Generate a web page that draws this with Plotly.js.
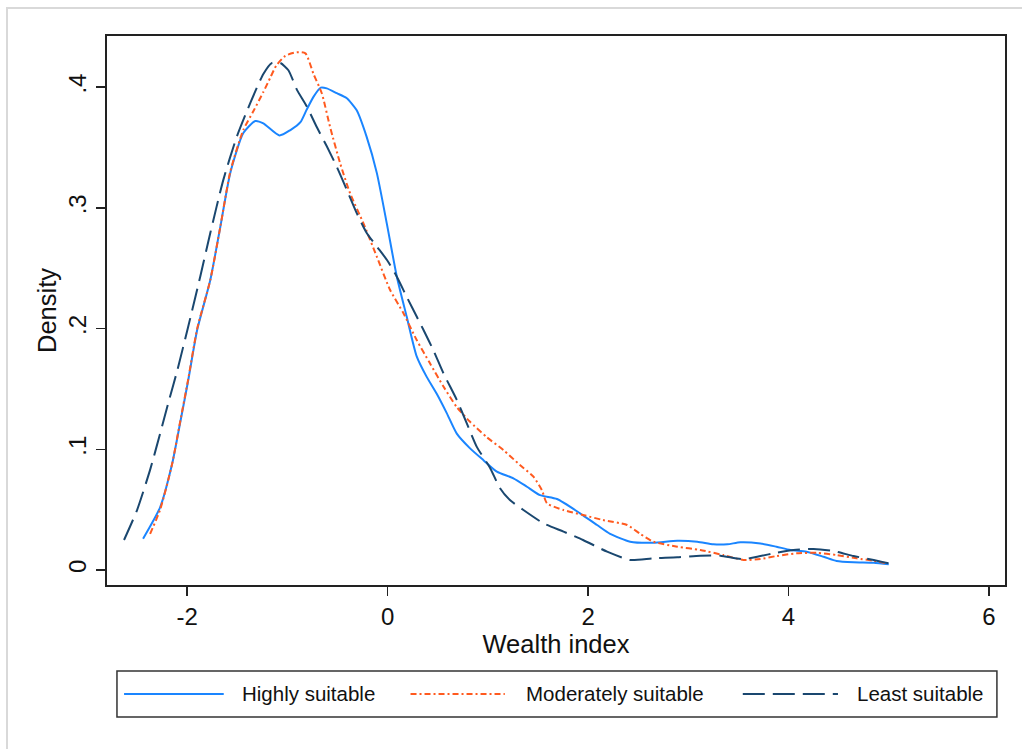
<!DOCTYPE html>
<html>
<head>
<meta charset="utf-8">
<script src="https://cdn.plot.ly/plotly-3.0.1.min.js"></script>
<style>
  html, body { margin: 0; padding: 0; background: #fff; }
  #wrap { position: relative; width: 1022px; height: 749px; }
  #chart { position: absolute; left: 0; top: 0; width: 1022px; height: 749px; }
  #frame { position: absolute; left: 6px; top: 7px; width: 1016px; height: 742px;
           border-top: 2px solid #d9d9d9; border-left: 2px solid #d9d9d9; pointer-events: none; }
</style>
</head>
<body>
<div id="wrap"><div id="chart"></div><div id="frame"></div></div>
<script>
// ---- data ----
const seriesNames = ["Highly suitable", "Moderately suitable", "Least suitable"];

const highX = [-2.44,-2.27,-2.15,-2.07,-1.99,-1.90,-1.77,-1.67,-1.57,-1.44,-1.32,-1.24,-1.08,-0.97,-0.87,-0.81,-0.74,-0.667,-0.607,-0.507,-0.41,-0.31,-0.21,-0.108,-0.008,0.092,0.19,0.29,0.39,0.49,0.59,0.69,0.82,0.956,1.09,1.255,1.39,1.52,1.69,1.92,2.09,2.22,2.42,2.65,2.89,3.09,3.25,3.39,3.52,3.72,3.88,4.02,4.18,4.35,4.48,4.65,4.85,5.0];
const highY = [0.026,0.052,0.088,0.122,0.157,0.199,0.240,0.284,0.329,0.362,0.372,0.370,0.360,0.3645,0.371,0.381,0.392,0.3996,0.399,0.395,0.391,0.381,0.359,0.329,0.287,0.243,0.21,0.177,0.160,0.146,0.130,0.113,0.101,0.091,0.0815,0.076,0.069,0.062,0.0588,0.047,0.0373,0.030,0.0235,0.0226,0.0243,0.0235,0.0213,0.0213,0.023,0.022,0.0193,0.0166,0.0152,0.011,0.0075,0.0064,0.006,0.0047];

const modX = [-2.37,-2.27,-2.15,-2.07,-1.99,-1.90,-1.77,-1.67,-1.57,-1.44,-1.34,-1.24,-1.17,-1.11,-1.02,-0.906,-0.82,-0.74,-0.657,-0.574,-0.474,-0.374,-0.24,-0.108,0.025,0.158,0.29,0.424,0.557,0.69,0.82,0.99,1.156,1.32,1.455,1.54,1.59,1.755,1.95,2.15,2.39,2.52,2.65,2.89,3.12,3.35,3.55,3.72,3.88,4.08,4.28,4.48,4.68,4.85,4.98];
const modY = [0.030,0.050,0.088,0.123,0.158,0.200,0.240,0.284,0.330,0.3645,0.380,0.396,0.408,0.418,0.426,0.429,0.428,0.411,0.395,0.367,0.337,0.312,0.287,0.2596,0.232,0.2127,0.1905,0.171,0.152,0.135,0.123,0.110,0.0994,0.087,0.0773,0.066,0.0553,0.0497,0.0456,0.0414,0.0373,0.030,0.0235,0.0193,0.0166,0.0124,0.0083,0.0091,0.0116,0.0138,0.0143,0.0124,0.0097,0.0077,0.0055];

const leastX = [-2.63,-2.50,-2.37,-2.27,-2.18,-2.10,-1.99,-1.87,-1.77,-1.64,-1.505,-1.37,-1.24,-1.156,-1.07,-0.99,-0.906,-0.806,-0.707,-0.607,-0.507,-0.407,-0.307,-0.207,-0.108,-0.008,0.092,0.19,0.29,0.357,0.457,0.557,0.69,0.79,0.89,1.02,1.12,1.22,1.355,1.555,1.755,1.95,2.19,2.42,2.65,2.89,3.12,3.32,3.55,3.72,3.88,4.05,4.25,4.45,4.65,4.85,5.0];
const leastY = [0.0249,0.0497,0.083,0.113,0.141,0.165,0.2016,0.243,0.279,0.323,0.359,0.387,0.411,0.420,0.420,0.414,0.398,0.384,0.367,0.351,0.334,0.315,0.2955,0.279,0.268,0.257,0.243,0.2264,0.21,0.199,0.182,0.163,0.141,0.1215,0.102,0.085,0.068,0.058,0.0497,0.0387,0.0318,0.0249,0.0152,0.0083,0.0097,0.0105,0.0119,0.0119,0.0091,0.0116,0.0143,0.0166,0.0174,0.0157,0.0116,0.0083,0.0055];

const xTickVals = [-2, 0, 2, 4, 6];
const xTickText = ["-2", "0", "2", "4", "6"];
const yTickVals = [0, 0.1, 0.2, 0.3, 0.4];
const yTickText = ["0", ".1", ".2", ".3", ".4"];

// ---- styles ----
const colors = ["#1a85ff", "#ff5a1f", "#1a476f"];
const dashes = ["solid", "6px,3px,2px,3px", "22px,8px"];
const FONT = "Liberation Sans, Arial, sans-serif";

const xs = [highX, modX, leastX];
const ys = [highY, modY, leastY];
const traces = xs.map((x, i) => ({
  type: "scatter", mode: "lines", x: x, y: ys[i], name: seriesNames[i],
  line: { color: colors[i], width: 2, dash: dashes[i], shape: "spline", smoothing: 0.6 },
  showlegend: false, hoverinfo: "skip"
}));

// custom legend (box, samples, labels) in paper coordinates
const legY = -0.1985;
const sampleX = [[0.019, 0.130], [0.338, 0.443], [0.708, 0.814]];
const labelX = [0.148, 0.464, 0.833];
const shapes = [{
  type: "rect", xref: "paper", yref: "paper", x0: 0.0111, x1: 0.991, y0: -0.2404, y1: -0.1566,
  line: { color: "#333", width: 1.5 }, fillcolor: "rgba(0,0,0,0)"
}];
const annotations = [];
seriesNames.forEach((n, i) => {
  shapes.push({ type: "line", xref: "paper", yref: "paper", x0: sampleX[i][0], x1: sampleX[i][1], y0: legY, y1: legY,
    line: { color: colors[i], width: 2, dash: dashes[i] } });
  annotations.push({ xref: "paper", yref: "paper", x: labelX[i], y: legY, xanchor: "left", yanchor: "middle",
    text: n, showarrow: false, font: { family: FONT, size: 20.5, color: "#111" } });
});

const layout = {
  width: 1022, height: 749,
  margin: { l: 107, r: 17, t: 36, b: 164 },
  paper_bgcolor: "#fff", plot_bgcolor: "#fff",
  font: { family: FONT, color: "#111" },
  xaxis: {
    range: [-2.80, 6.16], tickvals: xTickVals, ticktext: xTickText,
    ticks: "outside", ticklen: 9, tickwidth: 1.5, tickcolor: "#222",
    showline: true, linecolor: "#222", linewidth: 2, mirror: true,
    showgrid: false, zeroline: false,
    tickfont: { family: FONT, size: 24, color: "#111" },
    title: { text: "Wealth index", font: { family: FONT, size: 25.5, color: "#111" }, standoff: 2 }
  },
  yaxis: {
    range: [-0.0124, 0.4424], tickvals: yTickVals, ticktext: yTickText, tickangle: -90,
    ticks: "outside", ticklen: 9, tickwidth: 1.5, tickcolor: "#222",
    showline: true, linecolor: "#222", linewidth: 2, mirror: true,
    showgrid: false, zeroline: false,
    tickfont: { family: FONT, size: 24, color: "#111" },
    title: { text: "Density", font: { family: FONT, size: 25.5, color: "#111" }, standoff: 0 }
  },
  shapes: shapes,
  annotations: annotations
};

Plotly.newPlot("chart", traces, layout, { displayModeBar: false, staticPlot: true });
</script>
</body>
</html>
